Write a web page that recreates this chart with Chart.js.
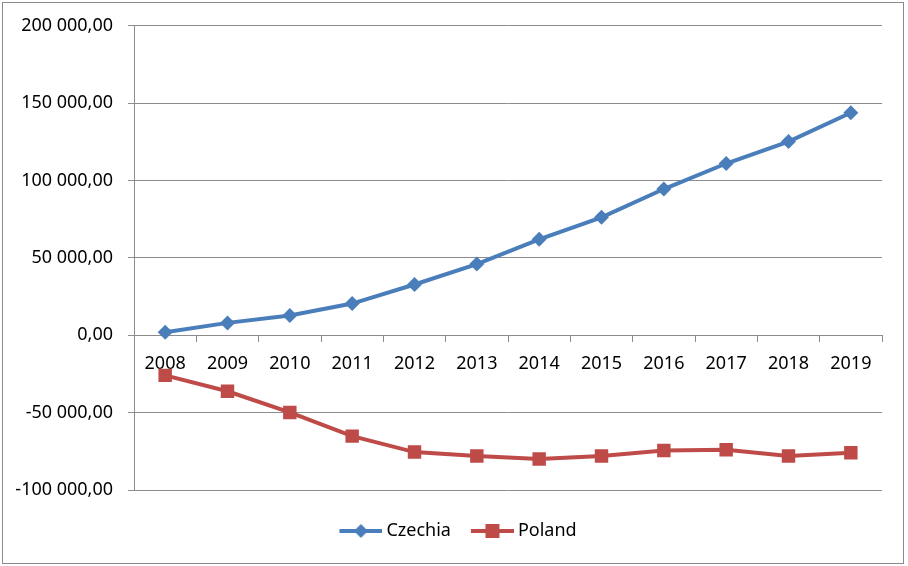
<!DOCTYPE html>
<html>
<head>
<meta charset="utf-8">
<script src="https://cdn.jsdelivr.net/npm/chart.js@4/dist/chart.umd.min.js"></script>
<style>
  html, body { margin: 0; padding: 0; background: #fff; }
  #wrap { position: relative; width: 908px; height: 566px; }
  #frame { position: absolute; left: 2px; top: 2px; width: 900px; height: 560px; border: 1px solid #8a8a8a; pointer-events: none; }
</style>
</head>
<body>
<div id="wrap">
  <canvas id="chart" width="908" height="566"></canvas>
  <div id="frame"></div>
</div>
<script>
const years = ["2008", "2009", "2010", "2011", "2012", "2013", "2014", "2015", "2016", "2017", "2018", "2019"];
const czechia = [2000, 8000, 12800, 20500, 32800, 46000, 62000, 76200, 94500, 111000, 125200, 143800];
const poland = [-25900, -36200, -49900, -65200, -75500, -78000, -80000, -78000, -74500, -74000, -78000, -75900];
const yTicks = [-100000, -50000, 0, 50000, 100000, 150000, 200000];

const blue = "#4a7ebb";
const red = "#be4b48";
const grey = "#8c8c8c";
const font = { family: "'Noto Sans', sans-serif", size: 18 };

// number like "150 000,00"
function fmt(v) {
  const neg = v < 0;
  const s = Math.abs(v).toFixed(0).replace(/\B(?=(\d{3})+(?!\d))/g, " ");
  return (neg ? "-" : "") + s + ",00";
}

// legend icon: line with the marker in the middle (Excel style)
// canvas is wider than the legend box so the line sits close to the text
function legendIcon(color, shape) {
  const c = document.createElement("canvas");
  c.width = 56;
  c.height = 16;
  const g = c.getContext("2d");
  g.strokeStyle = color;
  g.lineWidth = 4;
  g.beginPath();
  g.moveTo(13, 8);
  g.lineTo(56, 8);
  g.stroke();
  g.fillStyle = color;
  const cx = 34.5, cy = 8;
  if (shape === "diamond") {
    g.beginPath();
    g.moveTo(cx, cy - 7);
    g.lineTo(cx + 7, cy);
    g.lineTo(cx, cy + 7);
    g.lineTo(cx - 7, cy);
    g.closePath();
    g.fill();
  } else {
    g.fillRect(cx - 7, cy - 7, 14, 14);
  }
  return c;
}
const legendIcons = [legendIcon(blue, "diamond"), legendIcon(red, "square")];

// invisible axes used only to reserve space around the plot
const blank = (axis, position, size) => ({
  type: "linear",
  axis: axis,
  position: position,
  display: true,
  grid: { display: false },
  border: { display: false },
  ticks: { display: false },
  afterFit: (s) => { if (axis === "x") s.height = size; else s.width = size; }
});

new Chart(document.getElementById("chart"), {
  type: "line",
  data: {
    labels: years,
    datasets: [
      {
        label: "Czechia",
        data: czechia,
        xAxisID: "x",
        yAxisID: "y",
        borderColor: blue,
        backgroundColor: blue,
        borderWidth: 4,
        pointStyle: "rectRot",
        pointRadius: 7.5,
        pointBorderWidth: 0,
        tension: 0
      },
      {
        label: "Poland",
        data: poland,
        xAxisID: "x",
        yAxisID: "y",
        borderColor: red,
        backgroundColor: red,
        borderWidth: 4,
        pointStyle: "rect",
        pointRadius: 9.5,
        pointBorderWidth: 0,
        tension: 0
      }
    ]
  },
  options: {
    responsive: false,
    animation: false,
    layout: { padding: { left: 0, right: 0, top: 24, bottom: 16 } },
    plugins: {
      tooltip: { enabled: false },
      legend: {
        position: "bottom",
        labels: {
          color: "#000",
          font: font,
          padding: 12,
          usePointStyle: true,
          pointStyleWidth: 46,
          generateLabels: (chart) =>
            Chart.defaults.plugins.legend.labels.generateLabels(chart).map((l, i) => ({ ...l, pointStyle: legendIcons[i] }))
        }
      }
    },
    scales: {
      x: {
        position: { y: 0 },
        offset: true,
        grid: { offset: true, drawOnChartArea: false, drawTicks: true, tickLength: 6, color: grey },
        border: { display: true, color: grey, width: 1 },
        ticks: { color: "#000", font: font, padding: 12, maxRotation: 0 }
      },
      y: {
        min: yTicks[0],
        max: yTicks[yTicks.length - 1],
        afterBuildTicks: (s) => { s.ticks = yTicks.map(v => ({ value: v })); },
        afterFit: (s) => { s.width = 134; },
        grid: { color: grey, tickLength: 6 },
        border: { display: true, color: grey },
        ticks: { color: "#000", font: font, padding: 15, callback: (v) => fmt(v) }
      },
      spacer: blank("x", "bottom", 20),
      rspace: blank("y", "right", 26)
    }
  }
});
</script>
</body>
</html>
